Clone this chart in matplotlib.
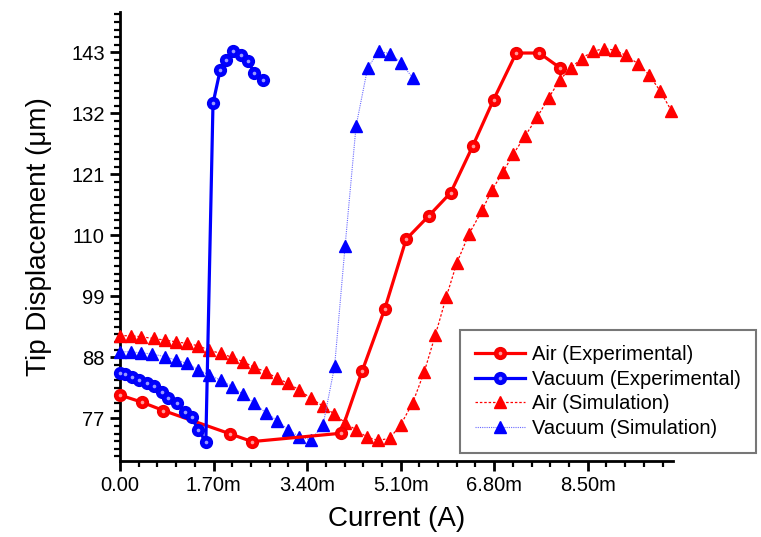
import matplotlib.pyplot as plt
from matplotlib.ticker import MultipleLocator, FuncFormatter
from matplotlib.legend_handler import HandlerTuple

plt.rcParams['font.family'] = ['Liberation Sans', 'DejaVu Sans']

# current in mA, tip displacement in um
air_exp_x = [0.00, 0.40, 0.79, 2.00, 2.40, 4.01, 4.40, 4.81, 5.20, 5.61, 6.01, 6.41,
             6.79, 7.20, 7.62, 8.00]
air_exp_y = [81.2, 79.9, 78.4, 74.2, 72.8, 74.3, 85.5, 96.7, 109.3, 113.5, 117.7, 126.1,
             134.5, 142.9, 142.9, 140.2]

vac_exp_x = [0.00, 0.09, 0.21, 0.35, 0.49, 0.61, 0.76, 0.88, 1.03, 1.18, 1.30, 1.42,
             1.56, 1.69, 1.82, 1.93, 2.06, 2.19, 2.33, 2.44, 2.59]
vac_exp_y = [85.2, 85.0, 84.5, 84.0, 83.4, 82.8, 81.8, 80.7, 79.8, 78.2, 77.3, 74.9,
             72.8, 133.8, 139.8, 141.6, 143.2, 142.6, 141.4, 139.3, 138.1]

air_sim_x = [0.00, 0.20, 0.39, 0.61, 0.82, 1.02, 1.22, 1.42, 1.62, 1.83, 2.04, 2.24,
             2.44, 2.65, 2.86, 3.06, 3.26, 3.47, 3.69, 3.89, 4.09, 4.29, 4.49, 4.69,
             4.90, 5.10, 5.32, 5.53, 5.73, 5.93, 6.12, 6.34, 6.58, 6.76, 6.96, 7.15,
             7.36, 7.58, 7.79, 7.99, 8.19, 8.39, 8.59, 8.80, 9.00, 9.19, 9.41, 9.62,
             9.82, 10.02]
air_sim_y = [91.9, 91.9, 91.7, 91.4, 91.1, 90.8, 90.5, 90.1, 89.3, 88.7, 88.0, 87.2,
             86.2, 85.4, 84.2, 83.3, 82.1, 80.6, 79.2, 77.8, 76.2, 74.9, 73.6, 73.0,
             73.4, 75.8, 79.8, 85.4, 92.0, 98.9, 105.0, 110.2, 114.5, 118.2, 121.4, 124.7,
             127.9, 131.3, 134.8, 138.0, 140.2, 141.9, 143.2, 143.7, 143.4, 142.5, 141.0, 138.9,
             136.0, 132.5]

vac_sim_x = [0.00, 0.20, 0.39, 0.59, 0.82, 1.02, 1.22, 1.42, 1.62, 1.83, 2.04, 2.24,
             2.44, 2.65, 2.86, 3.06, 3.26, 3.47, 3.69, 3.90, 4.09, 4.29, 4.50, 4.70,
             4.91, 5.11, 5.32]
vac_sim_y = [89.0, 89.0, 88.8, 88.6, 88.1, 87.5, 86.9, 85.8, 84.8, 83.9, 82.7, 81.3,
             79.7, 78.0, 76.6, 74.9, 73.7, 73.1, 75.8, 86.4, 108.0, 129.7, 140.2, 143.2,
             142.8, 141.1, 138.4]

labels = ["Air (Experimental)", "Vacuum (Experimental)", "Air (Simulation)", "Vacuum (Simulation)"]
yticks = [77, 88, 99, 110, 121, 132, 143]

fig = plt.figure(figsize=(7.61, 5.37), dpi=100)
ax = fig.add_axes([120/761, 1-461/537, 553/761, 449/537])

red = "#ff0000"
blue = "#0000ff"

l3, = ax.plot(air_sim_x, air_sim_y, color=red, lw=0.9, ls=(0, (2, 1.5)), marker="^",
              ms=8.5, mec=red, mfc=red, clip_on=False, zorder=3)
l4, = ax.plot(vac_sim_x, vac_sim_y, color="#6a6aff", lw=0.8, ls=(0, (1, 1)), marker="^",
              ms=8.5, mec=blue, mfc=blue, clip_on=False, zorder=3)
l1, = ax.plot(air_exp_x, air_exp_y, color=red, lw=2.3, marker="o", ms=8.5,
              mec="#f00000", mfc=red, mew=1, clip_on=False, zorder=4)
h1, = ax.plot(air_exp_x, air_exp_y, ls="none", marker="o", ms=2.6, mec="none",
              mfc="#ff9a9a", clip_on=False, zorder=4)
l2, = ax.plot(vac_exp_x, vac_exp_y, color=blue, lw=2.3, marker="o", ms=8.5,
              mec="#0000f0", mfc=blue, mew=1, clip_on=False, zorder=5)
h2, = ax.plot(vac_exp_x, vac_exp_y, ls="none", marker="o", ms=2.6, mec="none",
              mfc="#9a9aff", clip_on=False, zorder=5)

ax.set_xlim(0, 10.05)
ax.set_ylim(69.3, 150.3)
ax.set_yticks(yticks)
ax.xaxis.set_major_locator(MultipleLocator(1.7))
ax.xaxis.set_minor_locator(MultipleLocator(0.34))
ax.yaxis.set_minor_locator(MultipleLocator(11/8))
ax.xaxis.set_major_formatter(FuncFormatter(lambda v, p: "0.00" if abs(v) < 1e-9 else "%.2fm" % v))

for s in ["top", "right"]:
    ax.spines[s].set_visible(False)
for s in ["left", "bottom"]:
    ax.spines[s].set_linewidth(2)
ax.tick_params(which="major", direction="out", length=7, width=2, labelsize=14.5, pad=4)
ax.tick_params(which="minor", direction="out", length=4, width=1.6)

ax.set_xlabel("Current (A)", fontsize=20, labelpad=8)
ax.set_ylabel("Tip Displacement (\u03bcm)", fontsize=20, labelpad=14)

leg = fig.legend([(l1, h1), (l2, h2), l3, l4], labels, loc="upper left",
                 bbox_to_anchor=(460/761, 1-330/537), borderaxespad=0,
                 fontsize=14.5, frameon=True, fancybox=False, edgecolor="#555555",
                 numpoints=1, handlelength=2.5, handletextpad=0.35, borderpad=0.75,
                 labelspacing=0.28, handler_map={tuple: HandlerTuple(ndivide=1, pad=0)})
leg.get_frame().set_linewidth(1.5)

fig.savefig("out.png", dpi=100)
